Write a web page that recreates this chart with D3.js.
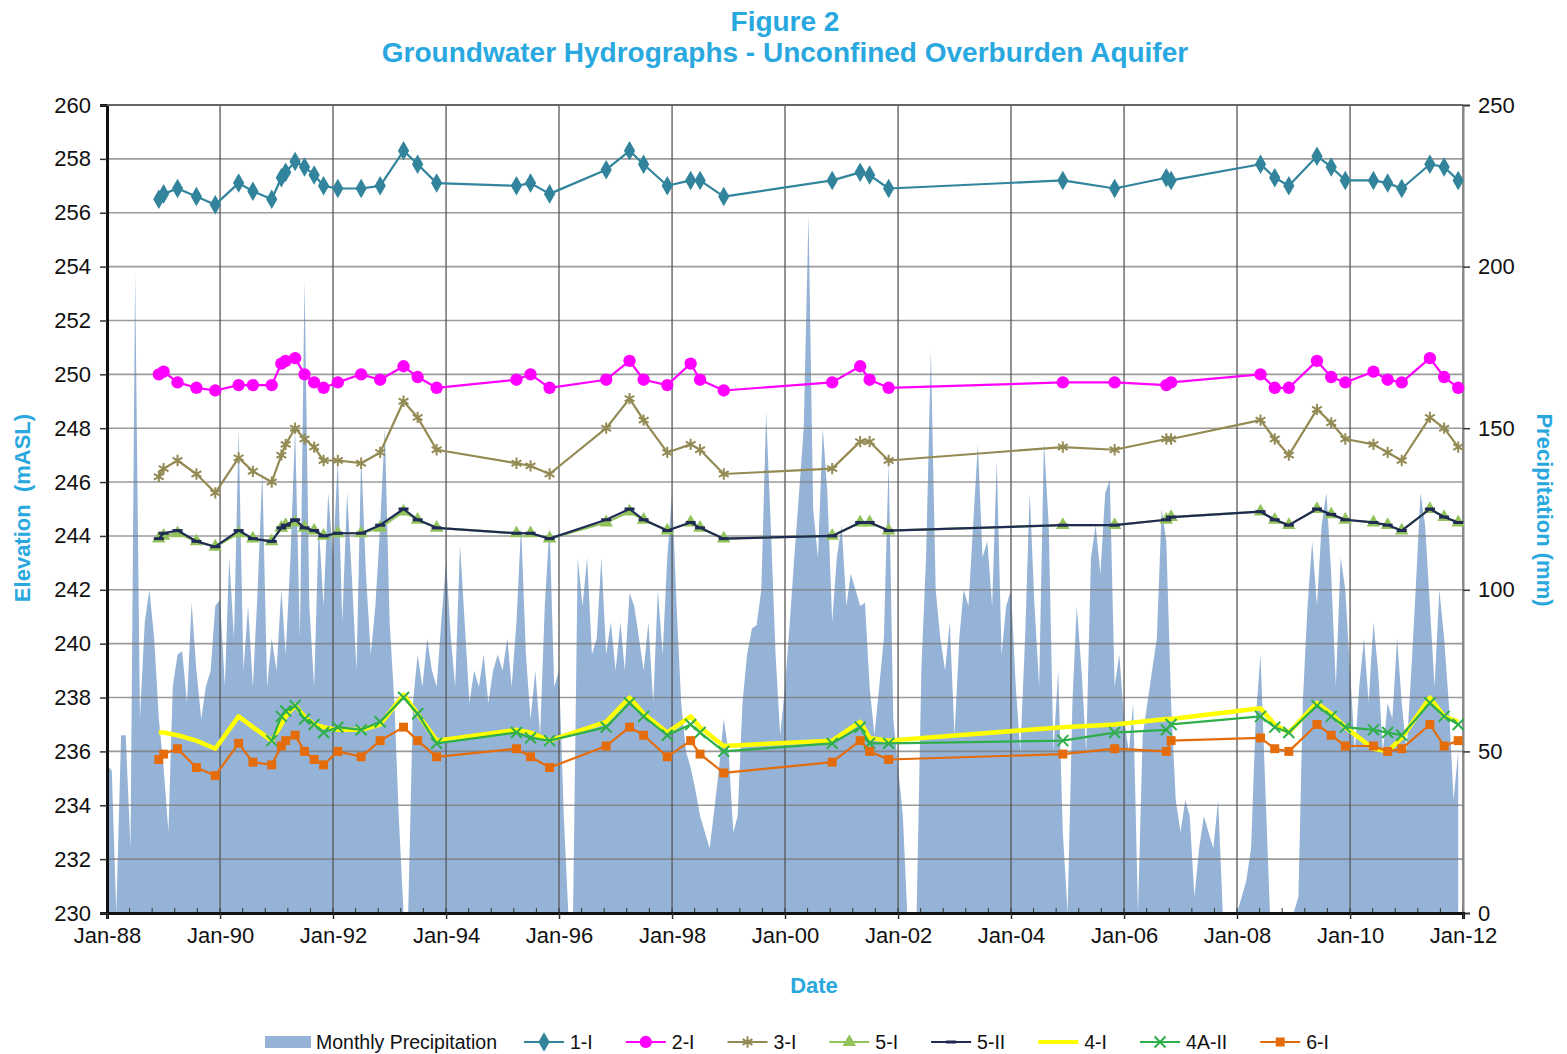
<!DOCTYPE html>
<html><head><meta charset="utf-8">
<script src="https://cdn.jsdelivr.net/npm/d3@7"></script>
<style>body{margin:0;background:#fff}svg{display:block}text{font-family:"Liberation Sans",Arial,sans-serif}</style>
</head><body>
<svg id="chart" width="1567" height="1054"></svg>
<script>
// ---------------- DATA ----------------
const sampleDates = ["1988-12","1989-01","1989-04","1989-08","1989-12","1990-05","1990-08","1990-12","1991-02","1991-03",
"1991-05","1991-07","1991-09","1991-11","1992-02","1992-07","1992-11","1993-04","1993-07","1993-11",
"1995-04","1995-07","1995-11","1996-11","1997-04","1997-07","1997-12","1998-05","1998-07","1998-12",
"2000-11","2001-05","2001-07","2001-11","2004-12","2005-11","2006-10","2006-11","2008-06","2008-09",
"2008-12","2009-06","2009-09","2009-12","2010-06","2010-09","2010-12","2011-06","2011-09","2011-12"];

const well1I = [256.5,256.7,256.9,256.6,256.3,257.1,256.8,256.5,257.3,257.5,
257.9,257.7,257.4,257.0,256.9,256.9,257.0,258.3,257.8,257.1,
257.0,257.1,256.7,257.6,258.3,257.8,257.0,257.2,257.2,256.6,
257.2,257.5,257.4,256.9,257.2,256.9,257.3,257.2,257.8,257.3,
257.0,258.1,257.7,257.2,257.2,257.1,256.9,257.8,257.7,257.2];

const well2I = [250.0,250.1,249.7,249.5,249.4,249.6,249.6,249.6,250.4,250.5,
250.6,250.0,249.7,249.5,249.7,250.0,249.8,250.3,249.9,249.5,
249.8,250.0,249.5,249.8,250.5,249.8,249.6,250.4,249.8,249.4,
249.7,250.3,249.8,249.5,249.7,249.7,249.6,249.7,250.0,249.5,
249.5,250.5,249.9,249.7,250.1,249.8,249.7,250.6,249.9,249.5];

const well3I = [246.2,246.5,246.8,246.3,245.6,246.9,246.4,246.0,247.0,247.4,
248.0,247.6,247.3,246.8,246.8,246.7,247.1,249.0,248.4,247.2,
246.7,246.6,246.3,248.0,249.1,248.3,247.1,247.4,247.2,246.3,
246.5,247.5,247.5,246.8,247.3,247.2,247.6,247.6,248.3,247.6,
247.0,248.7,248.2,247.6,247.4,247.1,246.8,248.4,248.0,247.3];

const well5I = [243.9,244.0,244.1,243.8,243.6,244.1,243.9,243.8,244.3,244.4,
244.5,244.3,244.2,244.0,244.1,244.1,244.3,244.9,244.6,244.3,
244.1,244.1,243.9,244.5,244.9,244.6,244.2,244.5,244.3,243.9,
244.0,244.5,244.5,244.2,244.4,244.4,244.6,244.7,244.9,244.6,
244.4,245.0,244.8,244.6,244.5,244.4,244.2,245.0,244.7,244.5];

const well5II = [243.9,244.1,244.2,243.8,243.6,244.2,243.9,243.8,244.3,244.4,
244.6,244.3,244.2,244.0,244.1,244.1,244.4,245.0,244.6,244.3,
244.1,244.1,243.9,244.6,245.0,244.6,244.2,244.5,244.3,243.9,
244.0,244.5,244.5,244.2,244.4,244.4,244.6,244.7,244.9,244.6,
244.4,245.0,244.8,244.6,244.5,244.4,244.2,245.0,244.7,244.5];

const well4I = [236.7,236.7,236.6,236.4,236.1,237.3,236.9,236.4,237.0,237.3,
237.7,237.3,237.0,236.9,236.8,236.8,237.0,238.1,237.4,236.4,
236.8,236.7,236.4,237.1,238.0,237.4,236.7,237.3,236.9,236.2,
236.4,237.1,236.5,236.4,236.9,237.0,237.2,237.2,237.6,237.0,
236.7,237.8,237.4,236.9,236.1,236.0,236.5,238.0,237.3,237.1];

const well4AII = [null,null,null,null,null,null,null,236.4,237.3,237.5,
237.7,237.2,237.0,236.7,236.9,236.8,237.1,238.0,237.4,236.3,
236.7,236.5,236.4,236.9,237.8,237.3,236.6,237.0,236.7,236.0,
236.3,236.9,236.3,236.3,236.4,236.7,236.8,237.0,237.3,236.9,
236.7,237.7,237.3,236.9,236.8,236.7,236.6,237.8,237.3,237.0];

const well6I = [235.7,235.9,236.1,235.4,235.1,236.3,235.6,235.5,236.2,236.4,
236.6,236.0,235.7,235.5,236.0,235.8,236.4,236.9,236.4,235.8,
236.1,235.8,235.4,236.2,236.9,236.6,235.8,236.4,235.9,235.2,
235.6,236.4,236.0,235.7,235.9,236.1,236.0,236.4,236.5,236.1,
236.0,237.0,236.6,236.2,236.2,236.0,236.1,237.0,236.2,236.4];

// Monthly precipitation (mm), Jan-1988 .. Dec-2011
const precipStartMonth = "1988-01";
const monthlyPrecip = [
 46, 44,  0, 55, 55, 20,198, 60, 90,100, 85, 60,   // 1988
 45, 25, 70, 80, 81, 65, 96, 75, 60, 70, 75, 95,   // 1989
 97, 70,110, 85,150, 75, 95, 70,100,137, 70, 85,   // 1990
 75,100, 80,110,150, 85,196, 95, 70,120, 95,130,   // 1991
110,140, 90,130,105, 75,142,105, 80, 95,120,150,   // 1992
 90, 65, 30,  0,  0, 65, 80, 70, 85, 75, 70, 90,   // 1993
109, 85, 70,114, 90, 65, 75, 70, 80, 65, 75, 80,   // 1994
 75, 85, 70, 90,120, 80, 60, 75, 55, 95,120, 70,   // 1995
 75, 30,  0,  0,110, 95,110, 80, 85,110, 80, 90,   // 1996
 75, 90, 75, 99, 95, 85, 75, 90, 65,100, 80,110,   // 1997
130, 93, 65, 50, 45, 38, 30, 25, 20, 32, 45, 60,   // 1998
 50, 25, 30, 65, 80, 88, 89,100,155,120, 80, 55,   // 1999
 70, 90,110,130,150,216,125,110,150,130, 90,110,   // 2000
120, 95,105,100, 95, 96, 70, 55, 70, 85,140, 60,   // 2001
 45, 30,  0,  0,  0, 76,110,174,100, 85, 75, 90,   // 2002
 55, 85,100, 95,120,145,110,115, 95,140, 80, 95,   // 2003
100, 70, 50, 85,130, 95, 70,146,120, 50, 75, 25,   // 2004
  0, 65, 95, 75, 50,110,120,105,130,134, 70, 80,   // 2005
 60, 50, 65,  0, 55, 65, 75, 85,125,115, 65, 35,   // 2006
 25, 35, 30,  5, 20, 30, 25, 20, 35,  0,  0,  0,   // 2007
  0,  5, 10, 20, 60, 80, 40,  0,  0,  0,  0,  0,   // 2008
  0,  5, 65, 95,115, 95,120,130,105, 70,110,100,   // 2009
 75, 50, 70, 85, 65, 90, 75, 50, 65, 60, 85, 65,   // 2010
 50, 75,100,130,120, 95, 70,100, 85, 65, 35, 50    // 2011
];

const elevTicks = [230,232,234,236,238,240,242,244,246,248,250,252,254,256,258,260];
const precipTicks = [0,50,100,150,200,250];
const dateTickLabels = ["Jan-88","Jan-90","Jan-92","Jan-94","Jan-96","Jan-98","Jan-00","Jan-02","Jan-04","Jan-06","Jan-08","Jan-10","Jan-12"];

const seriesNames = ["1-I","2-I","3-I","5-I","5-II","4-I","4A-II","6-I"];
const seriesColors = ["#31849B","#FF00FF","#948A54","#92C35A","#1F2A55","#FFFF00","#2EAF4A","#E46C0A"];
const seriesMarkers = ["diamond","circle","asterisk","triangle","dash","none","times","square"];
const seriesValues = [well1I,well2I,well3I,well5I,well5II,well4I,well4AII,well6I];

// ---------------- CHART ----------------
const svg = d3.select("#chart");
const P = {l:107, r:1463, t:105, b:913};
const blue = "#29A8E0";
const parseM = d3.timeParse("%Y-%m");
const x = d3.scaleTime().domain([new Date(1988,0,1), new Date(2012,0,1)]).range([P.l,P.r]);
const yL = d3.scaleLinear().domain([230,260]).range([P.b,P.t]);
const yR = d3.scaleLinear().domain([0,250]).range([P.b,P.t]);

svg.append("rect").attr("width",1567).attr("height",1054).attr("fill","#fff");

// precipitation area
const p0 = parseM(precipStartMonth);
const precipData = monthlyPrecip.map((v,i)=>({date:d3.timeMonth.offset(p0,i), v}));
svg.append("path").datum(precipData)
  .attr("fill","#95B3D7")
  .attr("d", d3.area().x(d=>x(d.date)).y0(yR(0)).y1(d=>yR(d.v)));

// gridlines
const majorDates = dateTickLabels.map((_,i)=>new Date(1988+2*i,0,1));
svg.append("g").selectAll("line").data(elevTicks).join("line")
  .attr("x1",P.l).attr("x2",P.r).attr("y1",d=>yL(d)).attr("y2",d=>yL(d))
  .attr("stroke","#7a7a7a").attr("stroke-opacity",0.75).attr("stroke-width",1.6);
svg.append("g").selectAll("line").data(majorDates).join("line")
  .attr("x1",d=>x(d)).attr("x2",d=>x(d)).attr("y1",P.t).attr("y2",P.b)
  .attr("stroke","#555").attr("stroke-opacity",0.8).attr("stroke-width",1.6);

// minor ticks on x axis
const minorDates = d3.range(0,24*12+1,24/5).map(m=>d3.timeDay.offset(new Date(1988,0,1), Math.round(m*30.4375)));
svg.append("g").selectAll("line").data(minorDates).join("line")
  .attr("x1",d=>x(d)).attr("x2",d=>x(d)).attr("y1",P.b).attr("y2",P.b-5)
  .attr("stroke","#333").attr("stroke-width",1);

// axes
const fontSize = 22;
const gL = svg.append("g").attr("transform",`translate(${P.l},0)`)
  .call(d3.axisLeft(yL).tickValues(elevTicks).tickSize(7).tickPadding(9).tickFormat(d3.format("d")));
const gR = svg.append("g").attr("transform",`translate(${P.r},0)`)
  .call(d3.axisRight(yR).tickValues(precipTicks).tickSize(7).tickPadding(8).tickFormat(d3.format("d")));
const gB = svg.append("g").attr("transform",`translate(0,${P.b})`)
  .call(d3.axisBottom(x).tickValues(majorDates).tickSize(6).tickPadding(8).tickFormat((d,i)=>dateTickLabels[i]));
[gL,gR,gB].forEach(g=>{
  g.selectAll("text").attr("font-size",fontSize).attr("fill","#111").attr("font-family","'Liberation Sans',Arial,sans-serif");
  g.selectAll("line").attr("stroke","#333").attr("stroke-width",1.5);
});
gL.select(".domain").attr("stroke","#111").attr("stroke-width",3);
gB.select(".domain").attr("stroke","#111").attr("stroke-width",3);
gR.select(".domain").attr("stroke","#888").attr("stroke-width",2);
// top border
svg.append("line").attr("x1",P.l).attr("x2",P.r).attr("y1",P.t).attr("y2",P.t).attr("stroke","#666").attr("stroke-width",2);

// marker drawer
function drawMarker(sel, type, color){
  const sz = {diamond:110, circle:120, square:80, triangle:80};
  if(type==="none") return;
  if(type==="dash"){
    sel.append("path").attr("d","M-5,0H5").attr("stroke",color).attr("stroke-width",3);
  } else if(type==="asterisk"){
    sel.append("path").attr("d",d3.symbol(d3.symbolAsterisk,90)()).attr("stroke",color).attr("stroke-width",2).attr("fill","none");
  } else if(type==="times"){
    sel.append("path").attr("d",d3.symbol(d3.symbolTimes,80)()).attr("stroke",color).attr("stroke-width",2).attr("fill","none");
  } else {
    const st = {diamond:d3.symbolDiamond, circle:d3.symbolCircle, square:d3.symbolSquare, triangle:d3.symbolTriangle}[type];
    sel.append("path").attr("d",d3.symbol(st,sz[type])()).attr("fill",color);
  }
}

// series
const dateObjs = sampleDates.map(parseM);
seriesNames.forEach((name,si)=>{
  const data = seriesValues[si].map((v,i)=>({date:dateObjs[i], v})).filter(d=>d.v!=null);
  const g = svg.append("g");
  g.append("path").datum(data)
    .attr("fill","none").attr("stroke",seriesColors[si])
    .attr("stroke-width", name==="4-I"?4.5:2.2).attr("stroke-linejoin","round")
    .attr("d", d3.line().x(d=>x(d.date)).y(d=>yL(d.v)));
  g.selectAll("g.m").data(data).join("g").attr("class","m")
    .attr("transform",d=>`translate(${x(d.date)},${yL(d.v)})`)
    .each(function(){ drawMarker(d3.select(this), seriesMarkers[si], seriesColors[si]); });
});

// titles
svg.append("text").attr("x",785).attr("y",31).attr("text-anchor","middle")
  .attr("font-size",28).attr("font-weight","bold").attr("fill",blue).text("Figure 2");
svg.append("text").attr("x",785).attr("y",62).attr("text-anchor","middle")
  .attr("font-size",28).attr("font-weight","bold").attr("fill",blue).text("Groundwater Hydrographs - Unconfined Overburden Aquifer");
svg.append("text").attr("transform","translate(30,508) rotate(-90)").attr("text-anchor","middle")
  .attr("font-size",22).attr("font-weight","bold").attr("fill",blue).attr("xml:space","preserve").text("Elevation  (mASL)");
svg.append("text").attr("transform","translate(1537,510) rotate(90)").attr("text-anchor","middle")
  .attr("font-size",22).attr("font-weight","bold").attr("fill",blue).text("Precipitation (mm)");
svg.append("text").attr("x",814).attr("y",993).attr("text-anchor","middle")
  .attr("font-size",22).attr("font-weight","bold").attr("fill",blue).text("Date");

// legend
const lg = svg.append("g").attr("font-size",19.5);
const ly = 1042;
let lx = 265;
lg.append("rect").attr("x",lx).attr("y",ly-6).attr("width",46).attr("height",12).attr("fill","#95B3D7");
let t = lg.append("text").attr("x",lx+51).attr("y",ly+7).attr("fill","#111").text("Monthly Precipitation");
lx = lx+51+t.node().getComputedTextLength()+27;
seriesNames.forEach((name,si)=>{
  lg.append("line").attr("x1",lx).attr("x2",lx+40).attr("y1",ly).attr("y2",ly)
    .attr("stroke",seriesColors[si]).attr("stroke-width",name==="4-I"?4:2.2);
  const mg = lg.append("g").attr("transform",`translate(${lx+20},${ly})`);
  drawMarker(mg, seriesMarkers[si], seriesColors[si]);
  const tt = lg.append("text").attr("x",lx+46).attr("y",ly+7).attr("fill","#111").text(name);
  lx = lx+46+tt.node().getComputedTextLength()+33;
});
</script>
</body></html>
